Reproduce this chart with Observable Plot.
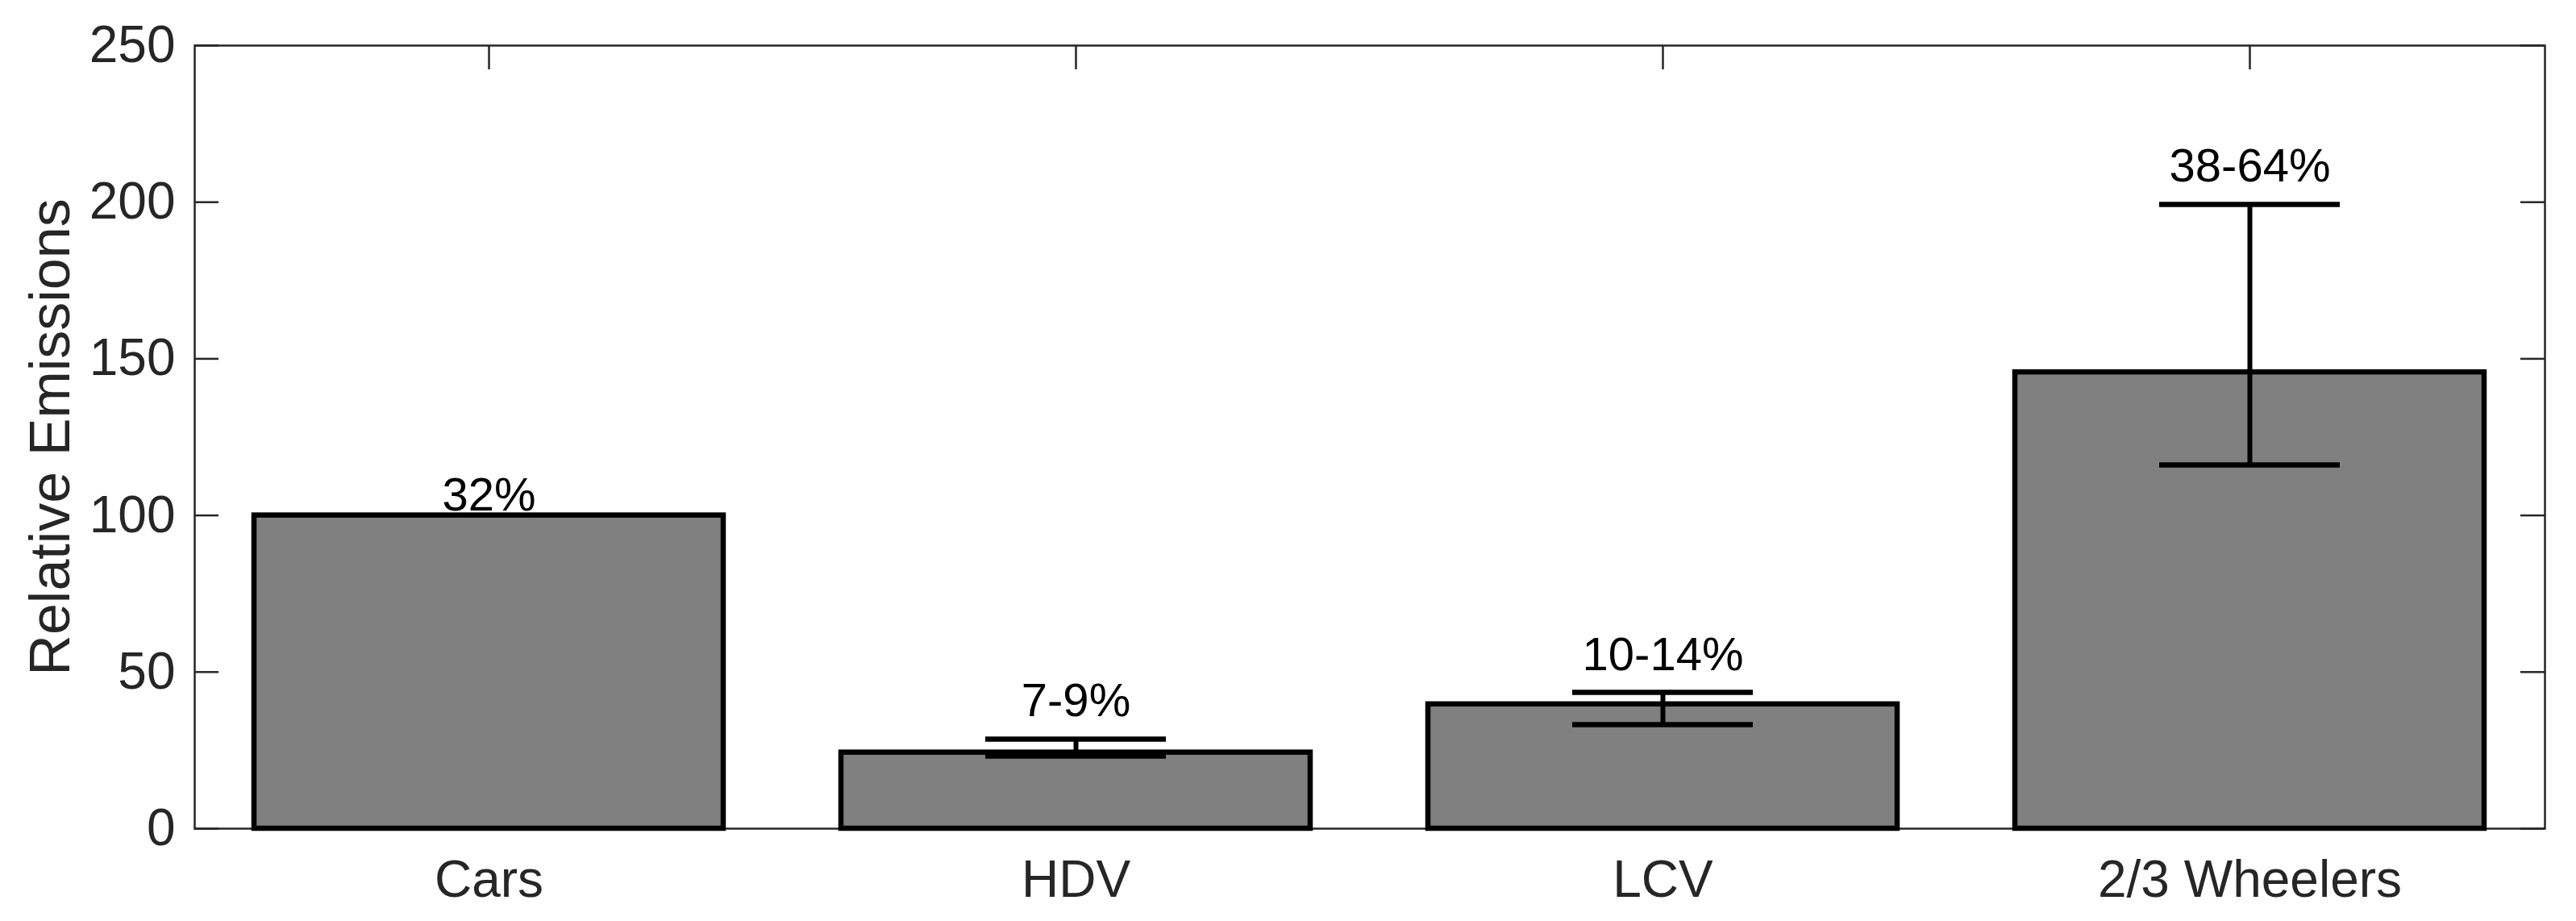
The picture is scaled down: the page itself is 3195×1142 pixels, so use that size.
<!DOCTYPE html>
<html><head><meta charset="utf-8">
<script src="https://cdn.jsdelivr.net/npm/d3@7"></script>
<script src="https://cdn.jsdelivr.net/npm/@observablehq/plot@0.6"></script>
<style>html,body{margin:0;padding:0;background:#fff;} #chart svg{display:block;}</style>
</head><body><div id="chart"></div>
<script>
const categories = ["Cars", "HDV", "LCV", "2/3 Wheelers"];
const values = [100, 24.3, 39.7, 145.7];
const errLow = [null, 23.2, 33.2, 116.1];
const errHigh = [null, 28.6, 43.5, 199.3];
const shareLabels = ["32%", "7-9%", "10-14%", "38-64%"];
const yTicks = [0, 50, 100, 150, 200, 250];
const yLabel = "Relative Emissions";

const W = 3195, H = 1142;
const margin = {top: 56, right: 39, bottom: 115, left: 241};
const innerW = W - margin.left - margin.right;
const innerH = H - margin.top - margin.bottom;
const tickLen = 30;
const bandW = innerW / categories.length * 0.8;
const capW = 225;
const capInset = (bandW - capW) / 2;

const data = categories.map((c, i) => ({cat: c, value: values[i], lo: errLow[i], hi: errHigh[i], label: shareLabels[i]}));
const errData = data.filter(d => d.hi != null);
const noErr = data.filter(d => d.hi == null);

const axisColor = "#262626";
const plot = Plot.plot({
  width: W, height: H,
  marginTop: margin.top, marginRight: margin.right, marginBottom: margin.bottom, marginLeft: margin.left,
  style: {fontFamily: "'Liberation Sans', Arial, Helvetica, sans-serif", fontSize: "64px", color: axisColor, background: "#fff"},
  x: {domain: categories, paddingInner: 0.2, paddingOuter: 0.1, axis: null},
  y: {domain: [0, 250], axis: null},
  marks: [
    Plot.axisY(yTicks, {anchor: "left", tickSize: 0, tickPadding: 24, fontSize: 64, label: null}),
    Plot.axisX({anchor: "bottom", tickSize: 0, tickPadding: 39, fontSize: 64, label: null}),
    Plot.ruleY(yTicks, {y: d => d, insetRight: innerW - tickLen, stroke: axisColor, strokeWidth: 2.5}),
    Plot.ruleY(yTicks, {y: d => d, insetLeft: innerW - tickLen, stroke: axisColor, strokeWidth: 2.5}),
    Plot.ruleX(categories, {x: d => d, insetBottom: innerH - tickLen, stroke: axisColor, strokeWidth: 2.5}),
    Plot.ruleX(categories, {x: d => d, insetTop: innerH - tickLen, stroke: axisColor, strokeWidth: 2.5}),
    Plot.frame({stroke: axisColor, strokeWidth: 2.5}),
    Plot.barY(data, {x: "cat", y: "value", fill: "#808080", stroke: "#000", strokeWidth: 6.5}),
    Plot.ruleX(errData, {x: "cat", y1: "lo", y2: "hi", stroke: "#000", strokeWidth: 6}),
    Plot.tickY(errData, {x: "cat", y: "lo", stroke: "#000", strokeWidth: 6.5, insetLeft: capInset, insetRight: capInset}),
    Plot.tickY(errData, {x: "cat", y: "hi", stroke: "#000", strokeWidth: 6.5, insetLeft: capInset, insetRight: capInset}),
    Plot.text(errData, {x: "cat", y: "hi", text: "label", dy: -28, lineAnchor: "bottom", fontSize: 58, fill: "#000"}),
    Plot.text(noErr, {x: "cat", y: "value", text: "label", dy: -6, lineAnchor: "bottom", fontSize: 58, fill: "#000"}),
    Plot.text([yLabel], {frameAnchor: "left", textAnchor: "middle", lineAnchor: "middle", rotate: -90, dx: -178, fontSize: 70, fill: axisColor})
  ]
});
document.getElementById("chart").appendChild(plot);
</script>
</body></html>
